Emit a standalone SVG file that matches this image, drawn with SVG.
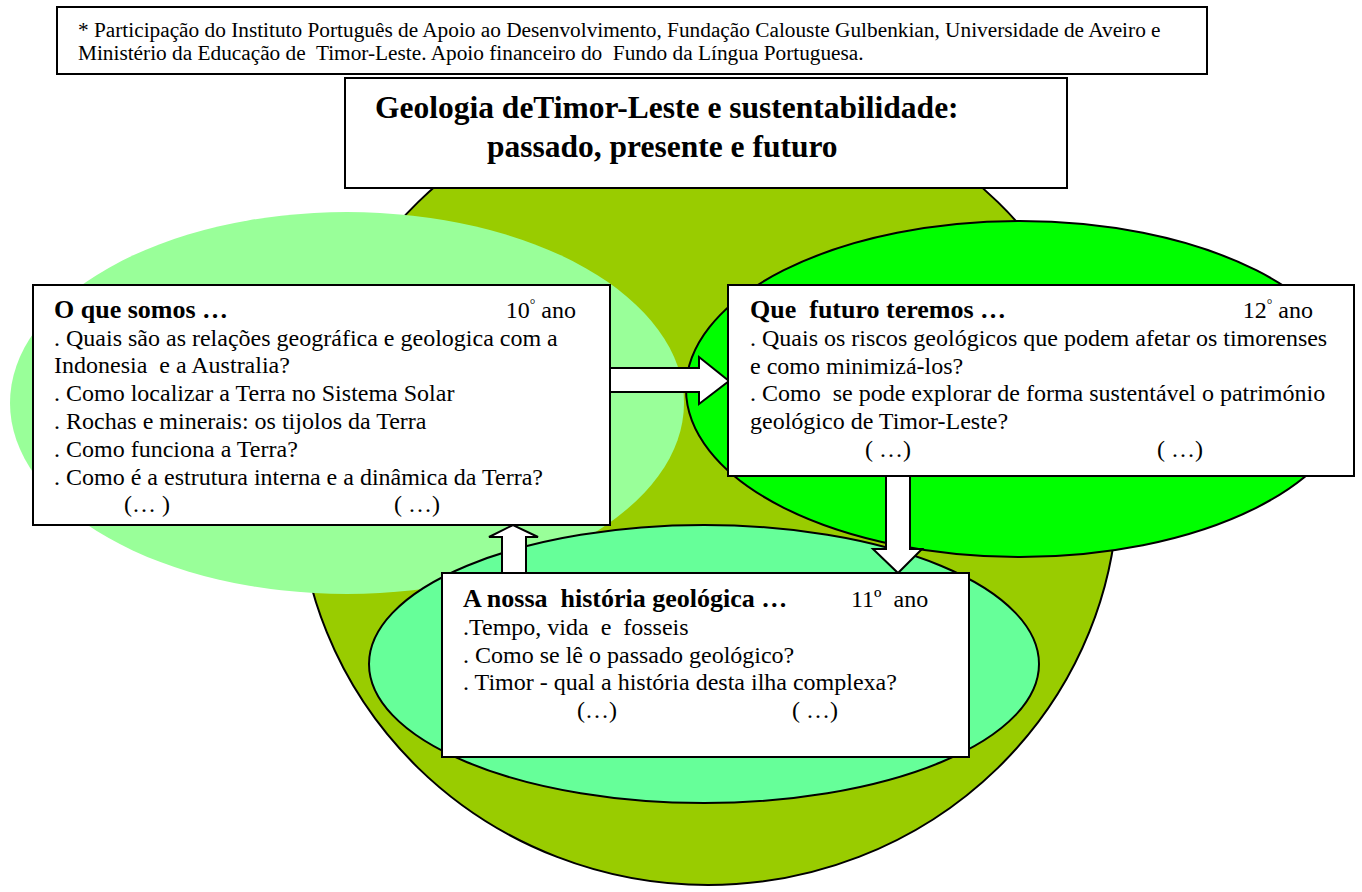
<svg xmlns="http://www.w3.org/2000/svg" width="1362" height="892" viewBox="0 0 1362 892" xml:space="preserve">
<style>
.box{fill:#fff;stroke:#000;stroke-width:2}
.t{font-family:"Liberation Serif","Times New Roman",serif;font-size:24px;fill:#000;white-space:pre}
.b{font-weight:bold;font-size:26px}
.note{font-family:"Liberation Serif","Times New Roman",serif;font-size:21.3px;fill:#000;white-space:pre}
.title{font-family:"Liberation Serif","Times New Roman",serif;font-size:31.5px;font-weight:bold;fill:#000}
.arr{fill:#fff;stroke:#000;stroke-width:2;stroke-linejoin:miter}
.ell{stroke:#000;stroke-width:2}
</style>
<rect width="1362" height="892" fill="#fff"/>
<g id="background">
<ellipse cx="708" cy="485" rx="410" ry="400" fill="#99CC00" class="ell"/>
<ellipse cx="347" cy="403" rx="337" ry="191" fill="#99FF99"/>
<ellipse cx="1020" cy="389" rx="334" ry="168" fill="#00FF00" class="ell"/>
<ellipse cx="704" cy="664" rx="335" ry="139" fill="#66FF99" class="ell"/>
</g>
<g id="note">
<rect class="box" x="57" y="7" width="1150" height="67"/>
<text class="note" x="78" y="37">* Participação do Instituto Português de Apoio ao Desenvolvimento, Fundação Calouste Gulbenkian, Universidade de Aveiro e</text>
<text class="note" x="78" y="60">Ministério da Educação de  Timor-Leste. Apoio financeiro do  Fundo da Língua Portuguesa.</text>
</g>
<g id="title">
<rect class="box" x="345" y="78" width="722" height="110"/>
<text class="title" x="375" y="118">Geologia deTimor-Leste e sustentabilidade:</text>
<text class="title" x="487" y="157">passado, presente e futuro</text>
</g>
<g id="connectors">
<polygon class="arr" points="610,368 699,368 699,357 729,381 699,404 699,392 610,392"/>
<polygon class="arr" points="886,476 910,476 910,549 922,549 898,573 873,549 886,549"/>
<polygon class="arr" points="502,573 502,537 489,537 513,525 538,537 526,537 526,573"/>
</g>
<g id="node-10ano">
<rect class="box" x="33" y="285" width="577" height="240"/>
<text class="t b" x="54" y="318">O que somos …</text>
<text class="t" x="576" y="318" text-anchor="end">10<tspan dy="-9" font-size="14">°</tspan><tspan dy="9"> ano</tspan></text>
<text class="t" x="54" y="346">. Quais são as relações geográfica e geologica com a</text>
<text class="t" x="54" y="373">Indonesia  e a Australia?</text>
<text class="t" x="54" y="401">. Como localizar a Terra no Sistema Solar</text>
<text class="t" x="54" y="429">. Rochas e minerais: os tijolos da Terra</text>
<text class="t" x="54" y="457">. Como funciona a Terra?</text>
<text class="t" x="54" y="485">. Como é a estrutura interna e a dinâmica da Terra?</text>
<text class="t" x="147" y="512" text-anchor="middle">(… )</text>
<text class="t" x="417" y="512" text-anchor="middle">( …)</text>
</g>
<g id="node-12ano">
<rect class="box" x="728" y="285" width="626" height="191"/>
<text class="t b" x="750" y="318">Que  futuro teremos …</text>
<text class="t" x="1313" y="318" text-anchor="end">12<tspan dy="-9" font-size="14">°</tspan><tspan dy="9"> ano</tspan></text>
<text class="t" x="750" y="346">. Quais os riscos geológicos que podem afetar os timorenses</text>
<text class="t" x="750" y="374">e como minimizá-los?</text>
<text class="t" x="750" y="401">. Como  se pode explorar de forma sustentável o património</text>
<text class="t" x="750" y="429">geológico de Timor-Leste?</text>
<text class="t" x="888" y="457" text-anchor="middle">( …)</text>
<text class="t" x="1180" y="457" text-anchor="middle">( …)</text>
</g>
<g id="node-11ano">
<rect class="box" x="442" y="573" width="527" height="184"/>
<text class="t b" x="463" y="607">A nossa  história geológica …</text>
<text class="t" x="851" y="607">11º  ano</text>
<text class="t" x="463" y="635">.Tempo, vida  e  fosseis</text>
<text class="t" x="463" y="663">. Como se lê o passado geológico?</text>
<text class="t" x="463" y="690">. Timor - qual a história desta ilha complexa?</text>
<text class="t" x="597" y="718" text-anchor="middle">(…)</text>
<text class="t" x="815" y="718" text-anchor="middle">( …)</text>
</g>
</svg>
